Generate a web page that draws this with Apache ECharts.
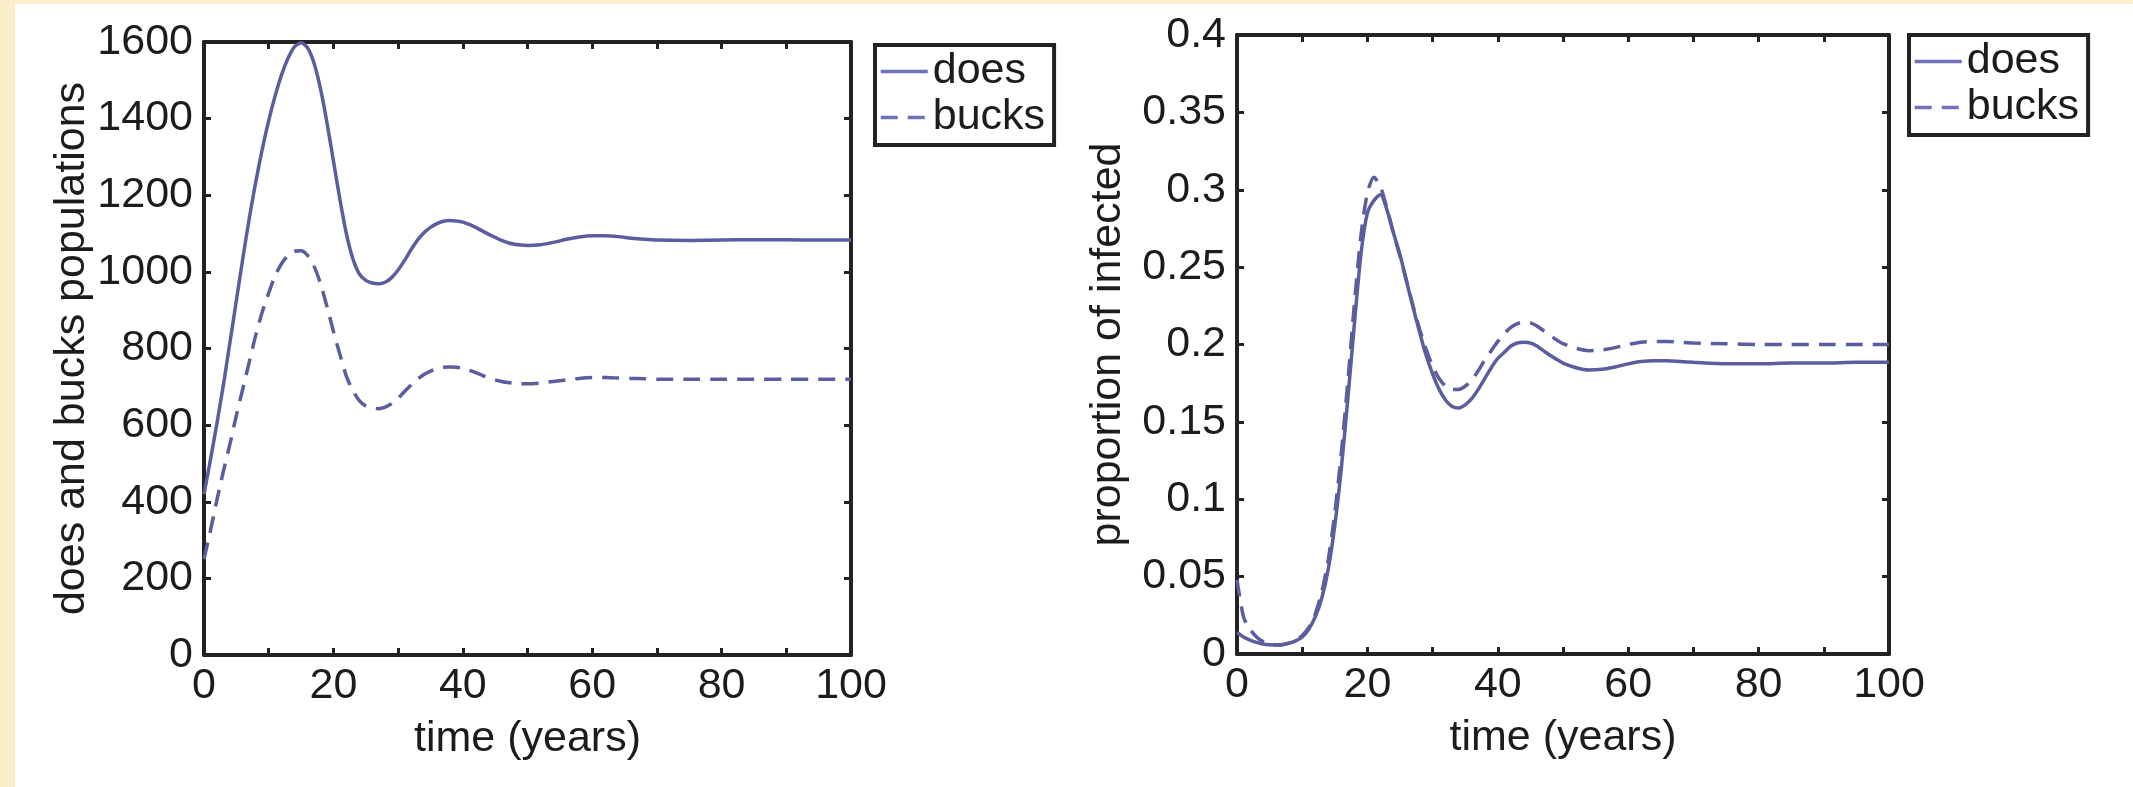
<!DOCTYPE html>
<html>
<head>
<meta charset="utf-8">
<script src="https://cdn.jsdelivr.net/npm/echarts@6/dist/echarts.min.js"></script>
<style>
  html, body { margin: 0; padding: 0; background: #ffffff; }
  #wrap { position: relative; width: 2133px; height: 787px; overflow: hidden; }
  .cream { position: absolute; background: #fbeecb; }
  #chart { position: absolute; left: 0; top: 0; width: 2133px; height: 787px; }
</style>
</head>
<body>
<div id="wrap">
  <div class="cream" style="left:0;top:0;width:15px;height:787px;"></div>
  <div class="cream" style="left:0;top:0;width:2133px;height:4px;"></div>
  <div id="chart"></div>
</div>
<script>
// ---- data ----
const timeYears = [0,1,2,3,4,5,6,7,8,9,10,11,12,13,14,15,16,17,18,19,20,21,22,23,24,25,26,27,28,29,30,31,32,33,34,35,36,37,38,39,40,41,42,43,44,45,46,47,48,49,50,
  52,54,56,58,60,62,64,66,68,70,75,80,85,90,95,100];

const doesPopulation = [420,510,605,705,815,925,1035,1140,1235,1320,1395,1460,1515,1558,1588,1598,1585,1545,1478,1390,1290,1190,1100,1035,995,978,971,969,973,985,1005,1030,1058,1083,1102,1116,1126,1132,1134,1133,1130,1124,1116,1107,1098,1090,1082,1076,1072,1070,1069,
  1071,1077,1085,1091,1094,1094,1092,1088,1085,1083,1082,1083,1084,1084,1083,1083];

const bucksPopulation = [250,325,405,480,550,625,695,765,835,895,945,990,1022,1043,1054,1055,1043,1015,970,910,845,785,728,690,664,650,644,643,647,656,670,688,705,720,732,741,747,751,752,751,748,743,737,730,724,718,714,711,709,708,708,
  710,714,718,722,724,724,723,722,721,720,720,720,720,720,720,720];

const doesInfected = [0.014,0.011,0.009,0.0075,0.0065,0.006,0.0058,0.006,0.007,0.0085,0.011,0.016,0.024,0.036,0.055,0.083,0.12,0.165,0.213,0.258,0.285,0.293,0.297,0.287,0.272,0.258,0.241,0.224,0.208,0.193,0.181,0.171,0.164,0.16,0.159,0.161,0.165,0.171,0.178,0.185,0.191,0.195,0.199,0.201,0.2015,0.201,0.199,0.196,0.193,0.1905,0.188,
  0.185,0.1835,0.184,0.1855,0.1875,0.189,0.1895,0.1895,0.189,0.1885,0.1875,0.1875,0.188,0.188,0.1885,0.1885];

const bucksInfected = [0.048,0.024,0.016,0.011,0.008,0.0065,0.006,0.0062,0.007,0.009,0.012,0.017,0.026,0.04,0.061,0.091,0.13,0.176,0.226,0.27,0.298,0.308,0.302,0.288,0.272,0.257,0.241,0.225,0.21,0.197,0.186,0.178,0.173,0.171,0.171,0.173,0.177,0.183,0.19,0.196,0.202,0.207,0.211,0.2135,0.2145,0.214,0.212,0.209,0.206,0.203,0.2005,
  0.1975,0.196,0.1965,0.198,0.2,0.2015,0.202,0.202,0.2015,0.201,0.2005,0.2,0.2,0.2,0.2,0.2];

const seriesNames = ['does', 'bucks'];
const xTitle = 'time (years)';
const yTitleLeft = 'does and bucks populations';
const yTitleRight = 'proportion of infected';

// ---- styling ----
const FONT = 'Liberation Sans';
const TXT = '#1c1c1c';
const LINE = '#5a5d9e';
const AXIS = '#222222';
const FS = 43;
const DASH = [17, 10];

function pairs(xs, ys) { return xs.map((x, i) => [x, ys[i]]); }

function boxAxisCommon() {
  return {
    axisLine: { show: true, onZero: false, lineStyle: { color: AXIS, width: 4 } },
    axisTick: { show: true, inside: true, length: 7, lineStyle: { color: AXIS, width: 3 } },
    splitLine: { show: false }
  };
}

function xAxes(gridIndex) {
  return [
    Object.assign(boxAxisCommon(), {
      type: 'value', gridIndex: gridIndex, position: 'bottom', min: 0, max: 100, interval: 10,
      name: xTitle, nameLocation: 'middle', nameGap: 63,
      nameTextStyle: { fontFamily: FONT, fontSize: FS, color: TXT },
      axisLabel: { show: true, margin: 10, fontFamily: FONT, fontSize: FS, color: TXT,
        formatter: v => (v % 20 === 0 ? String(v) : '') }
    }),
    Object.assign(boxAxisCommon(), {
      type: 'value', gridIndex: gridIndex, position: 'top', min: 0, max: 100, interval: 10,
      axisLabel: { show: false }
    })
  ];
}

function yAxes(gridIndex, max, interval, title, gap) {
  return [
    Object.assign(boxAxisCommon(), {
      type: 'value', gridIndex: gridIndex, position: 'left', min: 0, max: max, interval: interval,
      name: title, nameLocation: 'middle', nameGap: gap, nameRotate: 90,
      nameTextStyle: { fontFamily: FONT, fontSize: FS, color: TXT },
      axisLabel: { show: true, margin: 11, fontFamily: FONT, fontSize: FS, color: TXT,
        formatter: v => String(parseFloat(v.toFixed(4))) }
    }),
    Object.assign(boxAxisCommon(), {
      type: 'value', gridIndex: gridIndex, position: 'right', min: 0, max: max, interval: interval,
      axisLabel: { show: false }
    })
  ];
}

function lineSeries(name, data, xi, yi, dashed) {
  return {
    type: 'line', name: name, data: data, xAxisIndex: xi, yAxisIndex: yi,
    symbol: 'none', smooth: 0.25, z: 3,
    lineStyle: { color: LINE, width: 3.5, type: dashed ? DASH : 'solid' },
    itemStyle: { color: LINE }
  };
}

function legendAt(left, top) {
  return {
    left: left, top: top, orient: 'vertical',
    data: seriesNames,
    itemWidth: 47, itemHeight: 14, itemGap: 3,
    padding: [5, 9, 6, 4],
    borderColor: AXIS, borderWidth: 4, backgroundColor: '#ffffff',
    itemStyle: { opacity: 0, borderWidth: 0 },
    lineStyle: { color: '#6f72b8', width: 3.5 },
    textStyle: { fontFamily: FONT, fontSize: FS, color: TXT },
    selectedMode: false
  };
}

const chart = echarts.init(document.getElementById('chart'), null, { renderer: 'canvas' });
const xs = xAxes(0).concat(xAxes(1));
const ys = yAxes(0, 1600, 200, yTitleLeft, 109).concat(yAxes(1, 0.4, 0.05, yTitleRight, 107));

chart.setOption({
  backgroundColor: 'transparent',
  animation: false,
  textStyle: { fontFamily: FONT },
  grid: [
    { left: 204, top: 42, width: 647, height: 613 },
    { left: 1237, top: 35, width: 652, height: 619 }
  ],
  legend: [legendAt(875, 45), legendAt(1909, 35)],
  xAxis: xs,
  yAxis: ys,
  series: [
    lineSeries(seriesNames[0], pairs(timeYears, doesPopulation), 0, 0, false),
    lineSeries(seriesNames[1], pairs(timeYears, bucksPopulation), 0, 0, true),
    lineSeries(seriesNames[0], pairs(timeYears, doesInfected), 2, 2, false),
    lineSeries(seriesNames[1], pairs(timeYears, bucksInfected), 2, 2, true)
  ]
});
</script>
</body>
</html>
